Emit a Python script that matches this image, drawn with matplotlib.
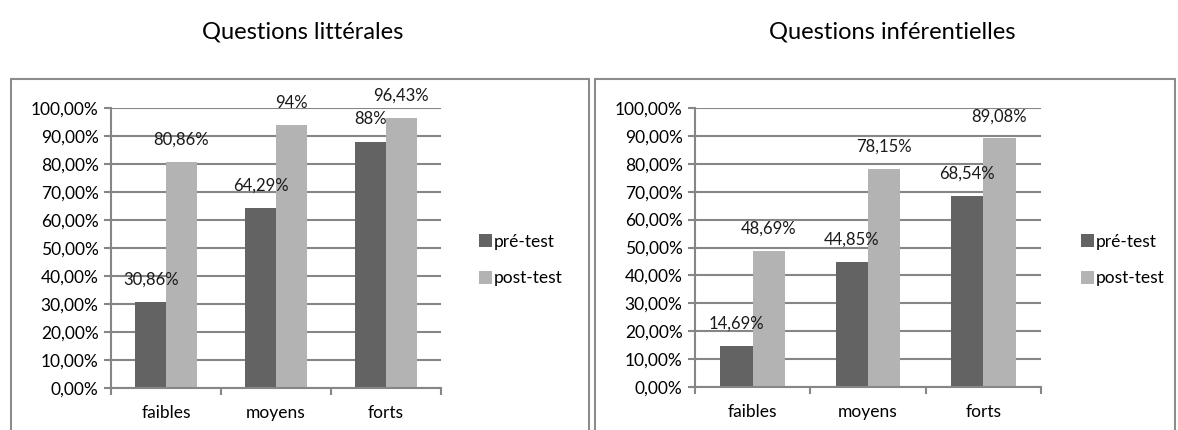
import matplotlib
matplotlib.use('Agg')
import matplotlib.pyplot as plt
from matplotlib.patches import Rectangle
import numpy as np

plt.rcParams['font.family'] = ['Lato', 'DejaVu Sans']

categories = ['faibles', 'moyens', 'forts']
series_names = ['pré-test', 'post-test']

litt_pre = [30.86, 64.29, 88]
litt_post = [80.86, 94, 96.43]

inf_pre = [14.69, 44.85, 68.54]
inf_post = [48.69, 78.15, 89.08]

yticks = list(range(0, 101, 10))

W, H = 1178, 430
DARK = '#636363'
LIGHT = '#b3b3b3'
GRID = '#868686'


def fmt(v):
    if float(v).is_integer():
        return '%d%%' % v
    return ('%.2f%%' % v).replace('.', ',')


def px_axes(fig, x0, x1, y0, y1):
    # y0 = top pixel, y1 = bottom pixel (image coords)
    return fig.add_axes([x0 / W, (H - y1) / H, (x1 - x0) / W, (y1 - y0) / H])


def draw_panel(fig, ax, pre, post, title, title_x, legend_x):
    x = np.arange(len(categories))
    bw = 0.28
    ax.set_axisbelow(True)
    ax.bar(x - bw / 2, pre, bw, color=DARK, label=series_names[0], zorder=2)
    ax.bar(x + bw / 2, post, bw, color=LIGHT, label=series_names[1], zorder=2)

    for xi, v in zip(x - bw / 2, pre):
        ax.annotate(fmt(v), (xi, v), xytext=(0, 16), textcoords='offset points',
                    ha='center', va='center', fontsize=12, color='#1a1a1a')
    for xi, v in zip(x + bw / 2, post):
        ax.annotate(fmt(v), (xi, v), xytext=(0, 16), textcoords='offset points',
                    ha='center', va='center', fontsize=12, color='#1a1a1a')

    ax.set_xlim(-0.5, len(categories) - 0.5)
    ax.set_ylim(0, 100)
    ax.set_yticks(yticks)
    ax.set_yticklabels([('%.2f%%' % t).replace('.', ',') for t in yticks], fontsize=12.5)
    ax.yaxis.grid(True, color=GRID, lw=1.5)

    ax.set_xticks(np.arange(len(categories) + 1) - 0.5)
    ax.set_xticklabels([])
    ax.set_xticks(x, minor=True)
    ax.set_xticklabels(categories, minor=True, fontsize=12.5)
    ax.tick_params(axis='x', which='minor', length=0, pad=12)
    ax.tick_params(axis='x', which='major', length=5, width=1.5, color=GRID)
    ax.tick_params(axis='y', length=5, width=1.5, color=GRID, pad=4)

    for s in ['top', 'right']:
        ax.spines[s].set_visible(False)
    for s in ['left', 'bottom']:
        ax.spines[s].set_color(GRID)
        ax.spines[s].set_linewidth(1.5)

    ax.legend(loc='center left', bbox_to_anchor=(legend_x / W, (H - 260) / H),
              bbox_transform=fig.transFigure, frameon=False, fontsize=12.5,
              handlelength=0.75, handleheight=0.75, handletextpad=0.1,
              labelspacing=1.2, borderaxespad=0, borderpad=0)

    fig.text(title_x / W, (H - 32) / H, title, ha='center', va='center', fontsize=17)


fig = plt.figure(figsize=(W / 100, H / 100), dpi=100)

fig.patches.append(Rectangle((11 / W, -0.1), (589 - 11) / W, (H - 79) / H + 0.1,
                             transform=fig.transFigure, fill=False,
                             edgecolor='#8c8c8c', lw=1.5))
fig.patches.append(Rectangle((595 / W, -0.1), (1175 - 595) / W, (H - 79) / H + 0.1,
                             transform=fig.transFigure, fill=False,
                             edgecolor='#8c8c8c', lw=1.5))

ax1 = px_axes(fig, 111, 441, 108, 388)
draw_panel(fig, ax1, litt_pre, litt_post, 'Questions littérales', 303, 479)

ax2 = px_axes(fig, 695, 1041, 108, 387)
draw_panel(fig, ax2, inf_pre, inf_post, 'Questions inférentielles', 892, 1081)

fig.savefig('out.png', dpi=100)
